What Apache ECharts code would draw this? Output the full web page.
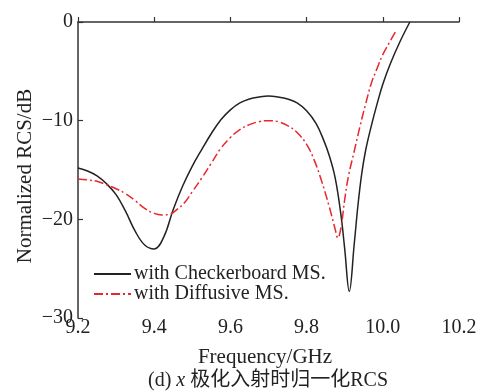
<!DOCTYPE html>
<html>
<head>
<meta charset="utf-8">
<script src="https://cdn.jsdelivr.net/npm/echarts@6/dist/echarts.min.js"></script>
<style>html,body{margin:0;padding:0;background:#fff;}#c{width:480px;height:391px;}</style>
</head>
<body>
<div id="c"></div>
<script>
const xTicks = [9.2, 9.4, 9.6, 9.8, 10.0, 10.2];
const yTicks = [0, -10, -20, -30];
const seriesNames = ['with Checkerboard MS.', 'with Diffusive MS.'];
const freqChecker = [9.20, 9.225, 9.25, 9.275, 9.30, 9.325, 9.35, 9.375, 9.40, 9.425, 9.45, 9.475, 9.50, 9.525, 9.55, 9.575, 9.60, 9.625, 9.65, 9.675, 9.70, 9.725, 9.75, 9.775, 9.80, 9.825, 9.845, 9.86, 9.875, 9.89, 9.90, 9.912, 9.925, 9.935, 9.945, 9.955, 9.97, 9.985, 10.0, 10.02, 10.045, 10.071];
const rcsChecker  = [-14.8, -15.1, -15.6, -16.4, -17.5, -19.2, -21.2, -22.6, -23.0, -21.8, -19.0, -16.6, -14.6, -12.9, -11.3, -9.9, -8.9, -8.2, -7.8, -7.6, -7.5, -7.6, -7.8, -8.2, -9.0, -10.3, -12.0, -13.6, -15.8, -19.5, -23.0, -27.3, -22.5, -18.5, -15.3, -13.0, -10.5, -8.3, -6.3, -4.2, -2.0, 0];
const freqDiffuse = [9.20, 9.225, 9.25, 9.275, 9.30, 9.325, 9.35, 9.375, 9.40, 9.42, 9.44, 9.46, 9.48, 9.50, 9.525, 9.55, 9.575, 9.60, 9.625, 9.65, 9.675, 9.70, 9.725, 9.75, 9.775, 9.80, 9.82, 9.84, 9.86, 9.875, 9.882, 9.89, 9.90, 9.91, 9.925, 9.94, 9.955, 9.97, 9.985, 10.0, 10.02, 10.036];
const rcsDiffuse  = [-15.9, -16.0, -16.15, -16.5, -16.9, -17.4, -18.1, -18.9, -19.4, -19.55, -19.5, -19.0, -18.3, -17.2, -15.8, -14.3, -12.8, -11.7, -10.9, -10.4, -10.1, -10.0, -10.1, -10.5, -11.2, -12.4, -14.0, -16.2, -18.8, -21.0, -21.9, -20.9, -18.0, -15.6, -13.1, -10.6, -8.3, -6.2, -4.7, -3.3, -1.9, -0.8];

const serif = '"Liberation Serif","Noto Sans CJK SC",serif';
const pairs = (xs, ys) => xs.map((x, i) => [x, ys[i]]);

const chart = echarts.init(document.getElementById('c'));
chart.setOption({
  animation: false,
  backgroundColor: '#fff',
  grid: {left: 78, right: 21, top: 22, bottom: 73},
  xAxis: {
    type: 'value', min: xTicks[0], max: xTicks[xTicks.length - 1], interval: 0.2,
    axisLine: {lineStyle: {color: '#333', width: 1.5}},
    axisTick: {inside: true, length: 5, lineStyle: {color: '#333', width: 1.2}},
    axisLabel: {margin: 0, color: '#222', fontFamily: serif, fontSize: 20,
      formatter: v => v.toFixed(1)},
    splitLine: {show: false}
  },
  yAxis: {
    type: 'value', min: yTicks[yTicks.length - 1], max: yTicks[0], interval: 10,
    axisLine: {show: true, lineStyle: {color: '#333', width: 1.5}},
    axisTick: {show: true, inside: true, length: 5, lineStyle: {color: '#333', width: 1.2}},
    axisLabel: {margin: 5, color: '#222', fontFamily: serif, fontSize: 20,
      formatter: v => v < 0 ? '\u2212' + Math.abs(v) : String(v)},
    splitLine: {show: false}
  },
  legend: {
    orient: 'vertical', left: 93, top: 264, padding: 0, itemWidth: 37, itemHeight: 14, itemGap: 0,
    data: seriesNames,
    itemStyle: {opacity: 0},
    textStyle: {fontFamily: serif, fontSize: 20, color: '#222', padding: [0, 0, 0, -2]}
  },
  series: [
    {name: seriesNames[0], type: 'line', data: pairs(freqChecker, rcsChecker), smooth: 0.4,
      symbol: 'none', lineStyle: {color: '#222', width: 1.5}, itemStyle: {color: '#222'}},
    {name: seriesNames[1], type: 'line', data: pairs(freqDiffuse, rcsDiffuse), smooth: 0.4,
      symbol: 'none', lineStyle: {color: '#e8262d', width: 1.5, type: [9, 3, 2, 3]}, itemStyle: {color: '#e8262d'}}
  ],
  graphic: [
    {type: 'text', x: 265, y: 357,
      style: {text: 'Frequency/GHz', font: '21px ' + serif, fill: '#222', align: 'center', verticalAlign: 'middle'}},
    {type: 'text', x: 25, y: 176, rotation: Math.PI / 2,
      style: {text: 'Normalized RCS/dB', font: '21px ' + serif, fill: '#222', align: 'center', verticalAlign: 'middle'}},
    {type: 'text', x: 268, y: 381,
      style: {rich: {i: {fontStyle: 'italic', fontFamily: serif, fontSize: 20, fill: '#222'},
                     n: {fontFamily: serif, fontSize: 20, fill: '#222'}},
        text: '{n|(d)}{i| x }{n|极化入射时归一化RCS}', align: 'center', verticalAlign: 'middle'}}
  ]
});
</script>
</body>
</html>
